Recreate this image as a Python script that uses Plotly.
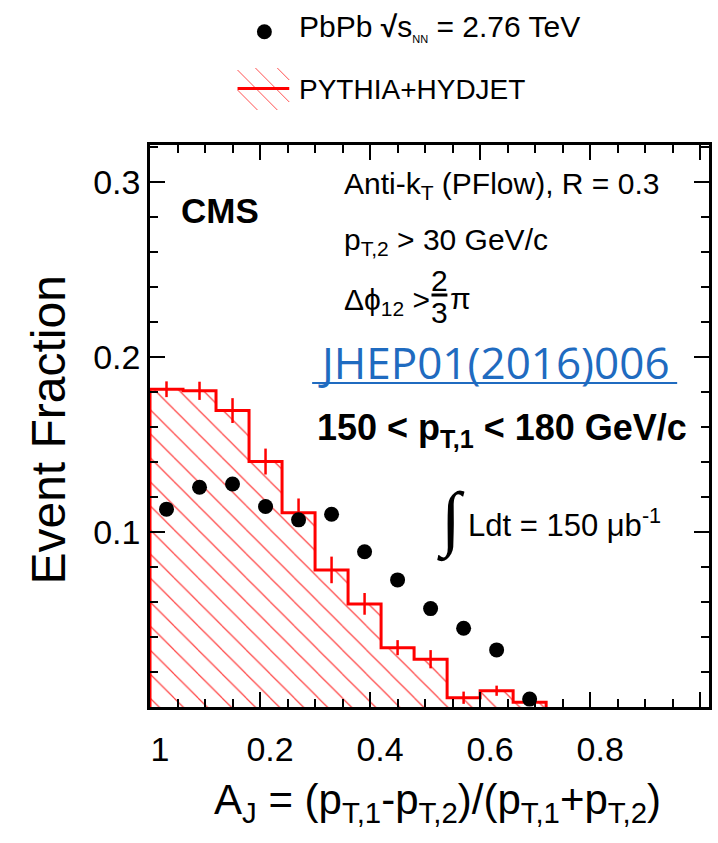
import plotly.graph_objects as go

# ---------------- data ----------------
aj_centers = [0.03, 0.09, 0.15, 0.21, 0.27, 0.33, 0.39, 0.45, 0.51, 0.57, 0.63, 0.69]
pbpb = [0.1130, 0.1255, 0.1274, 0.1145, 0.1069, 0.1101, 0.0887, 0.0726, 0.0562, 0.0450, 0.0326, 0.0045]
mc = [0.1815, 0.1806, 0.1693, 0.1402, 0.1110, 0.0783, 0.0589, 0.0339, 0.0273, 0.0053, 0.0093, 0.0027]
mc_err = [0.0045, 0.0052, 0.0071, 0.0074, 0.0081, 0.0076, 0.0062, 0.0043, 0.0052, 0.0035, 0.0029, 0.0015]
bin_width = 0.06

x_tickvals = [0, 0.2, 0.4, 0.6, 0.8, 1.0]
x_ticktext = ["1", "0.2", "0.4", "0.6", "0.8", ""]
y_tickvals = [0, 0.1, 0.2, 0.3]
y_ticktext = ["", "0.1", "0.2", "0.3"]

X_RANGE = [0, 1.016]
Y_RANGE = [0, 0.321]

# ---------------- layout helpers ----------------
W, H = 718, 843
L, R, T, B = 150, 712, 145, 707  # plot area in pixels
PW, PH = R - L, B - T


def px(x):
    return (x - L) / PW


def py(y):
    return (B - y) / PH


FONT = "Liberation Sans"
RED = "#ff0000"

fig = go.Figure()

# hatched MC histogram
fig.add_trace(go.Bar(
    x=aj_centers, y=mc, width=bin_width,
    marker=dict(color="white", line=dict(width=0),
                pattern=dict(shape="\\", fgcolor="#ff4040", bgcolor="white",
                             size=17, solidity=0.07, fillmode="replace")),
    showlegend=False, hoverinfo="skip"))

# step outline
half = bin_width / 2
sx = [aj_centers[0] - half] + [c - half for c in aj_centers] + [aj_centers[-1] + half] * 2
sy = [0] + mc + [mc[-1], 0]
fig.add_trace(go.Scatter(x=sx, y=sy, mode="lines", line=dict(color=RED, width=3, shape="hv"),
                         showlegend=False, hoverinfo="skip"))

# MC error bars
fig.add_trace(go.Scatter(x=aj_centers, y=mc, mode="markers", marker=dict(size=0.1, color=RED),
                         error_y=dict(type="data", array=mc_err, color=RED, thickness=2.5, width=0),
                         showlegend=False, hoverinfo="skip"))

# PbPb data
fig.add_trace(go.Scatter(x=aj_centers, y=pbpb, mode="markers",
                         marker=dict(size=15, color="black", symbol="circle"),
                         showlegend=False))

ann = []


def add_text(text, x, y, size, xanchor="left", yanchor="middle", family=FONT, color="black", angle=0):
    ann.append(dict(text=text, x=px(x), y=py(y), xref="paper", yref="paper",
                    xanchor=xanchor, yanchor=yanchor, showarrow=False, textangle=angle,
                    font=dict(family=family, size=size, color=color)))


# legend texts
add_text("PbPb <b>√</b>s<sub><span style='font-size:11px'>NN</span></sub> = 2.76 TeV", 298, 28, 30)
add_text("PYTHIA+HYDJET", 298, 90, 28)

# in-plot texts
add_text("<b>CMS</b>", 220, 211, 35, xanchor="center")
add_text("Anti-k<sub>T</sub> (PFlow), R = 0.3", 343, 185, 30)
add_text("p<sub>T,2</sub> &gt; 30 GeV/c", 343, 241, 30)
add_text("Δϕ<sub>12</sub> &gt;", 343, 301, 30)
add_text("2", 441, 280, 30, xanchor="center")
add_text("3", 441, 312, 30, xanchor="center")
add_text("π", 450, 298, 30)
add_text("JHEP01(2016)006", 496, 362, 44, xanchor="center", family="Open Sans", color="#1f6bc0")
add_text("<b>150 &lt; p<sub>T,1</sub> &lt; 180 GeV/c</b>", 504, 430, 36, xanchor="center")
add_text("∫", 453, 520, 72, xanchor="center", family="Liberation Serif")
add_text("Ldt = 150 μb<sup>-1</sup>", 468, 523, 31)

# axis titles
add_text("Event Fraction", 47, 430, 48, xanchor="center", angle=-90)
add_text("A<sub>J</sub> = (p<sub>T,1</sub>-p<sub>T,2</sub>)/(p<sub>T,1</sub>+p<sub>T,2</sub>)", 439, 802, 42,
         xanchor="center")

shapes = []
# legend marker
shapes.append(dict(type="circle", xref="paper", yref="paper", x0=px(257.5), x1=px(272.5),
                   y0=py(39.2), y1=py(24.2), fillcolor="black", line=dict(width=0)))
# legend hatch
for (x0, y0, x1, y1) in [(238, 70, 278, 110), (256, 68, 290, 102), (278, 68, 290, 80), (238, 90, 258, 110)]:
    shapes.append(dict(type="line", xref="paper", yref="paper", x0=px(x0), y0=py(y0), x1=px(x1), y1=py(y1),
                       line=dict(color="#ff5050", width=1)))
shapes.append(dict(type="line", xref="paper", yref="paper", x0=px(238), y0=py(88.5), x1=px(290), y1=py(88.5),
                   line=dict(color=RED, width=3)))
# fraction bar
shapes.append(dict(type="line", xref="paper", yref="paper", x0=px(433), y0=py(295), x1=px(449), y1=py(295),
                   line=dict(color="black", width=3)))
# JHEP underline
shapes.append(dict(type="line", xref="paper", yref="paper", x0=px(313), y0=py(383), x1=px(680), y1=py(383),
                   line=dict(color="#1f6bc0", width=2)))

fig.update_layout(
    width=W, height=H,
    margin=dict(l=L, r=W - R, t=T, b=H - B, pad=0),
    paper_bgcolor="white", plot_bgcolor="white",
    annotations=ann, shapes=shapes,
    bargap=0, showlegend=False,
    font=dict(family=FONT, color="black"),
    xaxis=dict(range=X_RANGE, showgrid=False, zeroline=False,
               showline=True, linecolor="black", linewidth=2.5, mirror="ticks",
               tickmode="array", ticks="inside", ticklen=15, tickwidth=2, tickcolor="black",
               tickvals=x_tickvals, ticktext=x_ticktext,
               tickfont=dict(family=FONT, size=34, color="black"),
               ticklabelshift=10, ticklabelstandoff=10,
               minor=dict(dtick=0.05, ticks="inside", ticklen=8, tickwidth=2, tickcolor="black")),
    yaxis=dict(range=Y_RANGE, showgrid=False, zeroline=False,
               showline=True, linecolor="black", linewidth=2.5, mirror="ticks",
               tickmode="array", ticks="inside", ticklen=15, tickwidth=2, tickcolor="black",
               tickvals=y_tickvals, ticktext=y_ticktext,
               tickfont=dict(family=FONT, size=34, color="black"),
               minor=dict(dtick=0.02, ticks="inside", ticklen=8, tickwidth=2, tickcolor="black")),
)

fig.write_html("out.html")
